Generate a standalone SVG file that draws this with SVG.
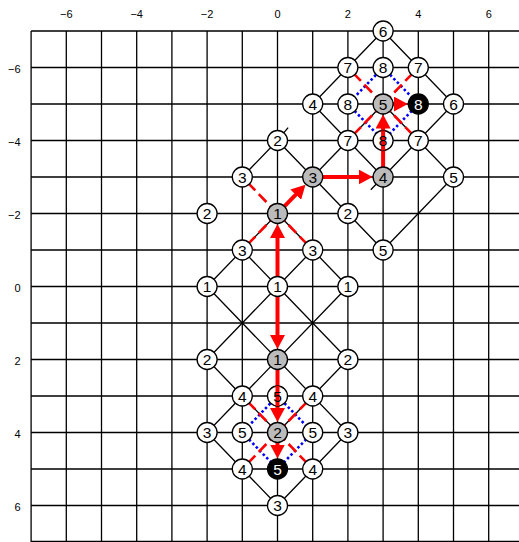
<svg xmlns="http://www.w3.org/2000/svg" width="519" height="542" viewBox="0 0 519 542">
<style>
.grid{stroke:#000;stroke-width:1.3;fill:none}
.edge{stroke:#000;stroke-width:1.3;fill:none}
.red{stroke:#f00;stroke-width:2.6;stroke-dasharray:11 5;fill:none}
.blue{stroke:#00f;stroke-width:2.6;stroke-dasharray:2.5 2.5;fill:none}
.arr{stroke:#f00;stroke-width:4;fill:none}
.node circle{fill:#fff;stroke:#000;stroke-width:1.3}
.node text{font-family:"Liberation Sans",Arial,sans-serif;font-size:15.5px;text-anchor:middle;fill:#000}
.node.gray circle{fill:#bbb}
.node.black circle{fill:#000}
.node.black text{fill:#fff}
.thru{stroke:#f00;stroke-width:4}
.axis{font-family:"Liberation Sans",Arial,sans-serif;font-size:11px;fill:#000}
.axis.top{text-anchor:middle}
.axis.left{text-anchor:end}
</style>
<defs>
<marker id="ah" markerUnits="userSpaceOnUse" markerWidth="15" markerHeight="15" refX="4" refY="7.5" orient="auto-start-reverse">
<path d="M0,0 L14,7.5 L0,15 z" fill="#f00"/>
</marker>
</defs>
<rect width="519" height="542" fill="#fff"/>
<g id="grid" class="grid">
<path d="M31.1,31V542M66.3,31V542M101.5,31V542M136.7,31V542M171.9,31V542M207.1,31V542M242.3,31V542M277.5,31V542M312.7,31V542M347.9,31V542M383.1,31V542M418.3,31V542M453.5,31V542M488.7,31V542"/>
<path d="M31.1,31H519M31.1,67.5H519M31.1,104H519M31.1,140.5H519M31.1,177H519M31.1,213.5H519M31.1,250H519M31.1,286.5H519M31.1,323H519M31.1,359.5H519M31.1,396H519M31.1,432.5H519M31.1,469H519M31.1,505.5H519M31.1,541.5H519"/>
</g>
<g id="axes">
<text class="axis top" x="66.3" y="18">−6</text>
<text class="axis top" x="136.7" y="18">−4</text>
<text class="axis top" x="207.1" y="18">−2</text>
<text class="axis top" x="277.5" y="18">0</text>
<text class="axis top" x="347.9" y="18">2</text>
<text class="axis top" x="418.3" y="18">4</text>
<text class="axis top" x="488.7" y="18">6</text>
<text class="axis left" x="20.5" y="73">−6</text>
<text class="axis left" x="20.5" y="146">−4</text>
<text class="axis left" x="20.5" y="219">−2</text>
<text class="axis left" x="20.5" y="292">0</text>
<text class="axis left" x="20.5" y="365">2</text>
<text class="axis left" x="20.5" y="438">4</text>
<text class="axis left" x="20.5" y="511">6</text>
</g>
<g id="connectors">
<g class="edge">
<path d="M383.1,31L347.9,67.5L312.7,104L347.9,140.5L383.1,177"/>
<path d="M383.1,31L418.3,67.5L453.5,104L418.3,140.5L370.8,189.8"/>
<path d="M418.3,140.5L453.5,177L383.1,250L347.9,213.5L312.7,177L277.5,140.5L242.3,177"/>
<path d="M312.7,177L347.9,140.5"/>
<path d="M277.5,140.5L288.1,127.7"/>
<path d="M383.1,104L347.9,140.5M383.1,104L418.3,140.5"/>
<path d="M277.5,213.5L242.3,250L207.1,286.5M242.3,250L277.5,286.5"/>
<path d="M277.5,213.5L312.7,250L347.9,286.5M312.7,250L277.5,286.5"/>
<path d="M207.1,286.5L347.9,432.5L312.7,469L277.5,505.5"/>
<path d="M347.9,286.5L207.1,432.5L242.3,469L277.5,505.5"/>
<path d="M277.5,286.5L207.1,359.5L277.5,432.5L347.9,359.5L277.5,286.5"/>
</g>
<g class="blue">
<path d="M277.5,396L312.7,432.5L277.5,469L242.3,432.5Z"/>
<path d="M383.1,67.5L418.3,104L383.1,140.5L347.9,104Z"/>
</g>
<g class="red">
<path d="M277.5,213.5L242.3,177M277.5,213.5L242.3,250M277.5,213.5L312.7,250"/>
<path d="M383.1,104L347.9,67.5M383.1,104L418.3,67.5M383.1,104L347.9,140.5M383.1,104L418.3,140.5"/>
<path d="M277.5,432.5L242.3,396M277.5,432.5L312.7,396M277.5,432.5L242.3,469M277.5,432.5L312.7,469"/>
</g>
<g class="arr">
<path d="M284.4,206.3L298.5,191.8" marker-end="url(#ah)"/>
<path d="M322.7,177H362.6" marker-end="url(#ah)"/>
<path d="M383.1,167V124.5" marker-end="url(#ah)"/>
<path d="M393.1,104H397.8" marker-end="url(#ah)"/>
<path d="M277.5,234V339" marker-start="url(#ah)" marker-end="url(#ah)"/>
<path d="M277.5,369.5V412" marker-end="url(#ah)"/>
<path d="M277.5,442.5V448.5" marker-end="url(#ah)"/>
</g>
</g>
<g id="nodes">
<g id="n_3_m7" class="node" transform="translate(383.1,31)"><circle r="10"/><text y="5.5">6</text></g>
<g id="n_2_m6" class="node" transform="translate(347.9,67.5)"><circle r="10"/><text y="5.5">7</text></g>
<g id="n_3_m6" class="node" transform="translate(383.1,67.5)"><circle r="10"/><text y="5.5">8</text></g>
<g id="n_4_m6" class="node" transform="translate(418.3,67.5)"><circle r="10"/><text y="5.5">7</text></g>
<g id="n_1_m5" class="node" transform="translate(312.7,104)"><circle r="10"/><text y="5.5">4</text></g>
<g id="n_2_m5" class="node" transform="translate(347.9,104)"><circle r="10"/><text y="5.5">8</text></g>
<g id="n_3_m5" class="node gray" transform="translate(383.1,104)"><circle r="10"/><text y="5.5">5</text></g>
<g id="n_4_m5" class="node black" transform="translate(418.3,104)"><circle r="10"/><text y="5.5">8</text></g>
<g id="n_5_m5" class="node" transform="translate(453.5,104)"><circle r="10"/><text y="5.5">6</text></g>
<g id="n_0_m4" class="node" transform="translate(277.5,140.5)"><circle r="10"/><text y="5.5">2</text></g>
<g id="n_2_m4" class="node" transform="translate(347.9,140.5)"><circle r="10"/><text y="5.5">7</text></g>
<g id="n_3_m4" class="node" transform="translate(383.1,140.5)"><circle r="10"/><line class="thru" x1="0" y1="-10" x2="0" y2="10"/><text y="5.5">8</text></g>
<g id="n_4_m4" class="node" transform="translate(418.3,140.5)"><circle r="10"/><text y="5.5">7</text></g>
<g id="n_m1_m3" class="node" transform="translate(242.3,177)"><circle r="10"/><text y="5.5">3</text></g>
<g id="n_1_m3" class="node gray" transform="translate(312.7,177)"><circle r="10"/><text y="5.5">3</text></g>
<g id="n_3_m3" class="node gray" transform="translate(383.1,177)"><circle r="10"/><text y="5.5">4</text></g>
<g id="n_5_m3" class="node" transform="translate(453.5,177)"><circle r="10"/><text y="5.5">5</text></g>
<g id="n_m2_m2" class="node" transform="translate(207.1,213.5)"><circle r="10"/><text y="5.5">2</text></g>
<g id="n_0_m2" class="node gray" transform="translate(277.5,213.5)"><circle r="10"/><text y="5.5">1</text></g>
<g id="n_2_m2" class="node" transform="translate(347.9,213.5)"><circle r="10"/><text y="5.5">2</text></g>
<g id="n_m1_m1" class="node" transform="translate(242.3,250)"><circle r="10"/><text y="5.5">3</text></g>
<g id="n_1_m1" class="node" transform="translate(312.7,250)"><circle r="10"/><text y="5.5">3</text></g>
<g id="n_3_m1" class="node" transform="translate(383.1,250)"><circle r="10"/><text y="5.5">5</text></g>
<g id="n_m2_0" class="node" transform="translate(207.1,286.5)"><circle r="10"/><text y="5.5">1</text></g>
<g id="n_0_0" class="node" transform="translate(277.5,286.5)"><circle r="10"/><text y="5.5">1</text></g>
<g id="n_2_0" class="node" transform="translate(347.9,286.5)"><circle r="10"/><text y="5.5">1</text></g>
<g id="n_m2_2" class="node" transform="translate(207.1,359.5)"><circle r="10"/><text y="5.5">2</text></g>
<g id="n_0_2" class="node gray" transform="translate(277.5,359.5)"><circle r="10"/><text y="5.5">1</text></g>
<g id="n_2_2" class="node" transform="translate(347.9,359.5)"><circle r="10"/><text y="5.5">2</text></g>
<g id="n_m1_3" class="node" transform="translate(242.3,396)"><circle r="10"/><text y="5.5">4</text></g>
<g id="n_0_3" class="node" transform="translate(277.5,396)"><circle r="10"/><line class="thru" x1="0" y1="-10" x2="0" y2="10"/><text y="5.5">5</text></g>
<g id="n_1_3" class="node" transform="translate(312.7,396)"><circle r="10"/><text y="5.5">4</text></g>
<g id="n_m2_4" class="node" transform="translate(207.1,432.5)"><circle r="10"/><text y="5.5">3</text></g>
<g id="n_m1_4" class="node" transform="translate(242.3,432.5)"><circle r="10"/><text y="5.5">5</text></g>
<g id="n_0_4" class="node gray" transform="translate(277.5,432.5)"><circle r="10"/><text y="5.5">2</text></g>
<g id="n_1_4" class="node" transform="translate(312.7,432.5)"><circle r="10"/><text y="5.5">5</text></g>
<g id="n_2_4" class="node" transform="translate(347.9,432.5)"><circle r="10"/><text y="5.5">3</text></g>
<g id="n_m1_5" class="node" transform="translate(242.3,469)"><circle r="10"/><text y="5.5">4</text></g>
<g id="n_0_5" class="node black" transform="translate(277.5,469)"><circle r="10"/><text y="5.5">5</text></g>
<g id="n_1_5" class="node" transform="translate(312.7,469)"><circle r="10"/><text y="5.5">4</text></g>
<g id="n_0_6" class="node" transform="translate(277.5,505.5)"><circle r="10"/><text y="5.5">3</text></g>
</g>
</svg>
